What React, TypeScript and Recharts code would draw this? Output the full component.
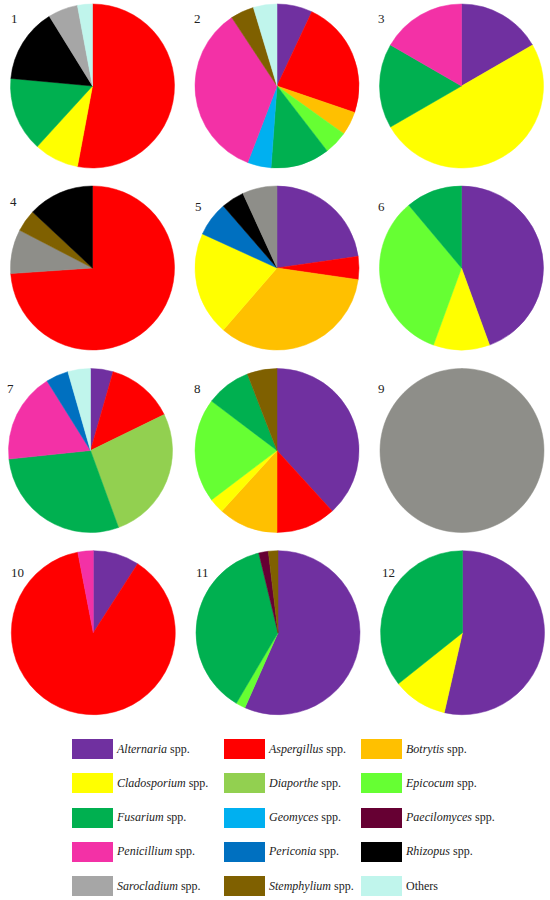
import React from 'react';
import { PieChart, Pie, Cell } from 'recharts';

// Legend categories (genus, shown italic + " spp.")
const GENERA = [
  'Alternaria', 'Aspergillus', 'Botrytis',
  'Cladosporium', 'Diaporthe', 'Epicocum',
  'Fusarium', 'Geomyces', 'Paecilomyces',
  'Penicillium', 'Periconia', 'Rhizopus',
  'Sarocladium', 'Stemphylium', 'Others',
];

const COLORS: Record<string, string> = {
  Alternaria: '#7030A0',
  Aspergillus: '#FF0000',
  Botrytis: '#FFC000',
  Cladosporium: '#FFFF00',
  Diaporthe: '#92D050',
  Epicocum: '#66FF33',
  Fusarium: '#00B050',
  Geomyces: '#00B0F0',
  Paecilomyces: '#660033',
  Penicillium: '#F331A6',
  Periconia: '#0070C0',
  Rhizopus: '#000000',
  Sarocladium: '#A6A6A6',
  Stemphylium: '#7F6000',
  Others: '#C0F5EC',
};
const DARK_GRAY = '#8E8E89';
const DARK_GRAY_PIES = [4, 5, 9];

// Slice data per sample, clockwise from 12 o'clock
const PIE_1: [string, number][] = [['Aspergillus', 18], ['Cladosporium', 3], ['Fusarium', 5], ['Rhizopus', 5], ['Sarocladium', 2], ['Others', 1]];
const PIE_2: [string, number][] = [['Alternaria', 3], ['Aspergillus', 10], ['Botrytis', 2], ['Epicocum', 2], ['Fusarium', 5], ['Geomyces', 2], ['Penicillium', 15], ['Stemphylium', 2], ['Others', 2]];
const PIE_3: [string, number][] = [['Alternaria', 1], ['Cladosporium', 3], ['Fusarium', 1], ['Penicillium', 1]];
const PIE_4: [string, number][] = [['Aspergillus', 17], ['Sarocladium', 2], ['Stemphylium', 1], ['Rhizopus', 3]];
const PIE_5: [string, number][] = [['Alternaria', 10], ['Aspergillus', 2], ['Botrytis', 15], ['Cladosporium', 9], ['Periconia', 3], ['Rhizopus', 2], ['Sarocladium', 3]];
const PIE_6: [string, number][] = [['Alternaria', 4], ['Cladosporium', 1], ['Epicocum', 3], ['Fusarium', 1]];
const PIE_7: [string, number][] = [['Alternaria', 2], ['Aspergillus', 6], ['Diaporthe', 12], ['Fusarium', 13], ['Penicillium', 8], ['Periconia', 2], ['Others', 2]];
const PIE_8: [string, number][] = [['Alternaria', 13], ['Aspergillus', 4], ['Botrytis', 4], ['Cladosporium', 1], ['Epicocum', 7], ['Fusarium', 3], ['Stemphylium', 2]];
const PIE_9: [string, number][] = [['Sarocladium', 1]];
const PIE_10: [string, number][] = [['Alternaria', 3], ['Aspergillus', 29], ['Penicillium', 1]];
const PIE_11: [string, number][] = [['Alternaria', 30], ['Epicocum', 1], ['Fusarium', 20], ['Paecilomyces', 1], ['Stemphylium', 1]];
const PIE_12: [string, number][] = [['Alternaria', 15], ['Cladosporium', 3], ['Fusarium', 10]];

const PIES = [PIE_1, PIE_2, PIE_3, PIE_4, PIE_5, PIE_6, PIE_7, PIE_8, PIE_9, PIE_10, PIE_11, PIE_12];
const PIE_LABELS = ['1', '2', '3', '4', '5', '6', '7', '8', '9', '10', '11', '12'];

// Layout (positions only)
const CENTERS: [number, number][] = [
  [92.5, 86], [277, 86], [461.5, 86],
  [92.5, 268], [277, 268], [461.5, 268],
  [90.5, 450.5], [277, 450.5], [462, 450.5],
  [93.3, 632.7], [278, 632.7], [462.5, 632.7],
];
const LABEL_POS: [number, number][] = [
  [11, 12], [194, 12], [378, 12],
  [10, 195], [195, 200], [378, 200],
  [7, 382], [194, 382], [378, 382],
  [11, 566], [196, 566], [382, 566],
];
const RADIUS = 82;

const FONT = "'Liberation Serif', Tinos, 'Times New Roman', Times, 'Noto Serif', 'DejaVu Serif', serif";

export default function App() {
  return (
    <div style={{ position: 'absolute', left: 0, top: 0, width: 550, height: 900, background: '#fff', fontFamily: FONT }}>
      <PieChart width={550} height={900} margin={{ top: 0, right: 0, bottom: 0, left: 0 }}>
        {PIES.map((pie, i) => {
          const data = pie.map(([name, value]) => ({ name, value }));
          return (
            <Pie
              key={i}
              data={data}
              dataKey="value"
              nameKey="name"
              cx={CENTERS[i][0]}
              cy={CENTERS[i][1]}
              outerRadius={RADIUS}
              innerRadius={0}
              startAngle={90}
              endAngle={-270}
              isAnimationActive={false}
              label={false}
              labelLine={false}
            >
              {data.map((d, j) => {
                const c = d.name === 'Sarocladium' && DARK_GRAY_PIES.includes(i + 1) ? DARK_GRAY : COLORS[d.name];
                return <Cell key={j} fill={c} stroke={c} strokeWidth={0.5} />;
              })}
            </Pie>
          );
        })}
      </PieChart>
      {PIE_LABELS.map((t, i) => (
        <div key={t} style={{ position: 'absolute', left: LABEL_POS[i][0], top: LABEL_POS[i][1], fontFamily: FONT, fontSize: 13, lineHeight: '14px', color: '#222' }}>{t}</div>
      ))}
      {GENERA.map((g, k) => {
        const col = k % 3;
        const row = Math.floor(k / 3);
        const sx = [72, 224, 361][col];
        const sy = 739 + row * 34.3;
        return (
          <div key={g} style={{ position: 'absolute', left: sx, top: sy, height: 20, display: 'flex', alignItems: 'center', whiteSpace: 'nowrap' }}>
            <div style={{ width: 41, height: 20, background: COLORS[g] }} />
            <div style={{ marginLeft: 4, fontFamily: FONT, fontSize: 12, color: '#222' }}>
              {g === 'Others' ? 'Others' : (<><i>{g}</i> spp.</>)}
            </div>
          </div>
        );
      })}
    </div>
  );
}
